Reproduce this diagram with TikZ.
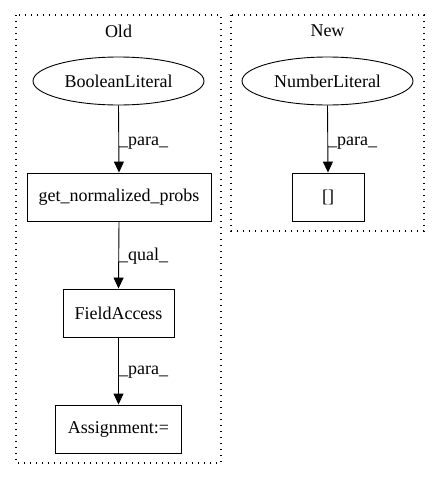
\documentclass[tikz,border=0pt]{standalone}
\usepackage{fontspec}
\setmainfont{Liberation Serif}
\usetikzlibrary{arrows.meta,shapes.geometric}
\begin{document}
\begin{tikzpicture}[x=1pt,y=-1pt,
  every node/.style={font=\fontsize{18}{21}\selectfont, inner sep=0pt},
  cluster/.style={draw, line width=1.1pt, dash pattern=on 1.2pt off 4.8pt},
  box/.style={draw, line width=0.9pt, minimum height=48pt},
  oval/.style={draw, ellipse, line width=0.9pt, minimum width=171pt, minimum height=48pt},
  edge/.style={line width=0.9pt, -{Triangle[length=11pt,width=10pt]}},
  elabel/.style={anchor=west}]
\useasboundingbox (0,0) rectangle (440,480);
\draw[cluster] (16,15) rectangle (221,463);
\draw[cluster] (231,15) rectangle (424,231);
\node (old) at (118.5,31) {Old};
\node (new) at (327.5,31) {New};
\node[oval] (bool) at (118.5,81) {BooleanLiteral};
\node[box, minimum width=184pt] (gnp) at (119,197) {get\_normalized\_probs};
\node[box, minimum width=111pt] (fa) at (118.5,313) {FieldAccess};
\node[box, minimum width=126pt] (asg) at (118.5,429) {Assignment:=};
\node[oval] (num) at (327.5,81) {NumberLiteral};
\node[box, minimum width=72pt] (idx) at (328,197) {[]};
\draw[edge] (bool.south) -- (gnp.north);
\draw[edge] (gnp.south) -- (fa.north);
\draw[edge] (fa.south) -- (asg.north);
\draw[edge] (num.south) -- (idx.north);
\node[elabel] (l1) at (119,143) {\_para\_};
\node[elabel] (l2) at (119,256) {\_qual\_};
\node[elabel] (l3) at (119,372) {\_para\_};
\node[elabel] (l4) at (328,143) {\_para\_};
\end{tikzpicture}
\end{document}
